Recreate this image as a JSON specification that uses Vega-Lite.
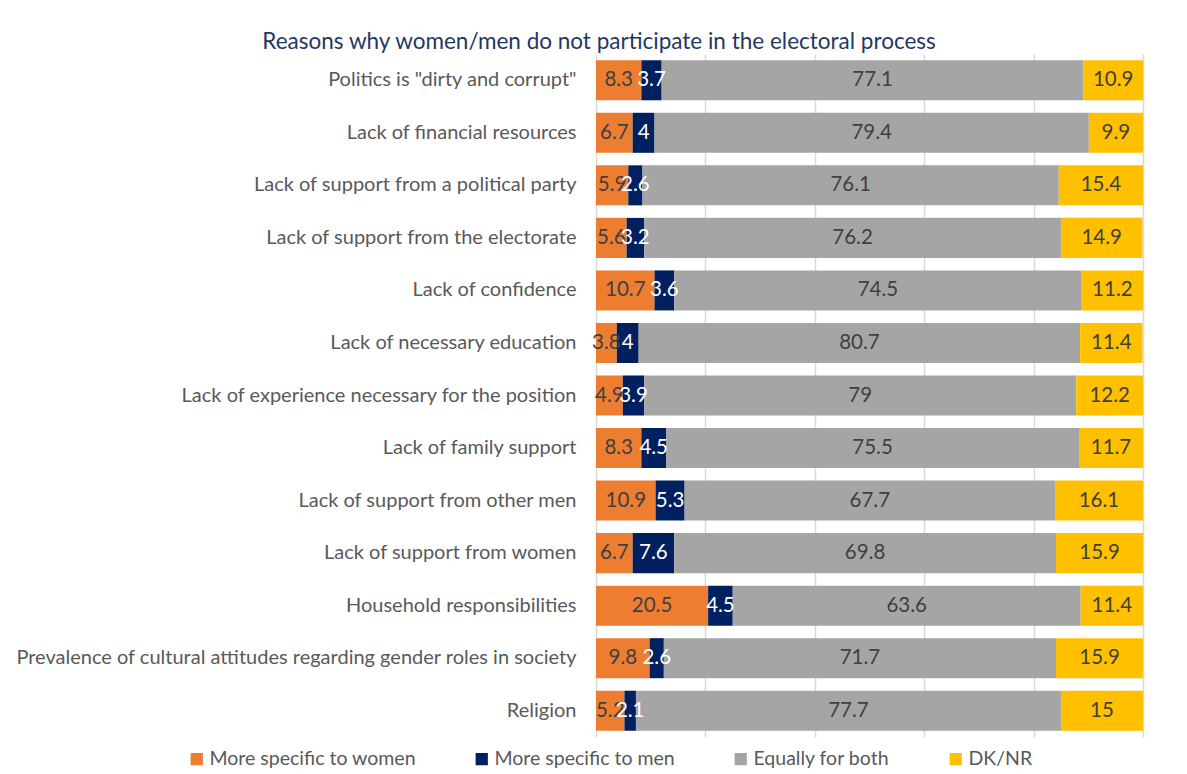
{
  "$schema": "https://vega.github.io/schema/vega-lite/v6.json",
  "width": 547,
  "height": 683,
  "autosize": {"type": "none"},
  "padding": {"left": 596, "top": 54, "right": 44, "bottom": 37},
  "background": "white",
  "title": {
    "text": "Reasons why women/men do not participate in the electoral process",
    "font": "Lato",
    "fontSize": 22.5,
    "fontWeight": "normal",
    "color": "#1F3864",
    "anchor": "middle",
    "frame": "bounds",
    "dx": 20,
    "offset": 1
  },
  "data": {
    "values": [
      {"reason": "Politics is \"dirty and corrupt\"", "women": 8.3, "men": 3.7, "both": 77.1, "dknr": 10.9},
      {"reason": "Lack of financial resources", "women": 6.7, "men": 4, "both": 79.4, "dknr": 9.9},
      {"reason": "Lack of support from a political party", "women": 5.9, "men": 2.6, "both": 76.1, "dknr": 15.4},
      {"reason": "Lack of support from the electorate", "women": 5.6, "men": 3.2, "both": 76.2, "dknr": 14.9},
      {"reason": "Lack of confidence", "women": 10.7, "men": 3.6, "both": 74.5, "dknr": 11.2},
      {"reason": "Lack of necessary education", "women": 3.8, "men": 4, "both": 80.7, "dknr": 11.4},
      {"reason": "Lack of experience necessary for the position", "women": 4.9, "men": 3.9, "both": 79, "dknr": 12.2},
      {"reason": "Lack of family support", "women": 8.3, "men": 4.5, "both": 75.5, "dknr": 11.7},
      {"reason": "Lack of support from other men", "women": 10.9, "men": 5.3, "both": 67.7, "dknr": 16.1},
      {"reason": "Lack of support from women", "women": 6.7, "men": 7.6, "both": 69.8, "dknr": 15.9},
      {"reason": "Household responsibilities", "women": 20.5, "men": 4.5, "both": 63.6, "dknr": 11.4},
      {"reason": "Prevalence of cultural attitudes regarding gender roles in society", "women": 9.8, "men": 2.6, "both": 71.7, "dknr": 15.9},
      {"reason": "Religion", "women": 5.2, "men": 2.1, "both": 77.7, "dknr": 15}
    ]
  },
  "transform": [
    {"fold": ["women", "men", "both", "dknr"], "as": ["series", "value"]},
    {"calculate": "indexof(['women','men','both','dknr'], datum.series)", "as": "idx"},
    {"stack": "value", "groupby": ["reason"], "sort": [{"field": "idx", "order": "ascending"}], "as": ["x0", "x1"]},
    {"calculate": "(datum.x0 + datum.x1) / 2", "as": "mid"}
  ],
  "encoding": {
    "y": {
      "field": "reason",
      "type": "nominal",
      "sort": null,
      "scale": {"paddingInner": 0.238, "paddingOuter": 0.119},
      "axis": {
        "title": null,
        "labelFont": "Lato",
        "labelFontSize": 20,
        "labelColor": "#595959",
        "labelPadding": 20,
        "labelLimit": 0,
        "ticks": false,
        "domain": false,
        "grid": false
      }
    }
  },
  "layer": [
    {
      "mark": {"type": "bar"},
      "encoding": {
        "x": {
          "field": "x0",
          "type": "quantitative",
          "scale": {"domain": [0, 100], "nice": false, "zero": true},
          "axis": {
            "title": null,
            "labels": false,
            "ticks": false,
            "domain": false,
            "grid": true,
            "gridColor": "#D9D9D9",
            "gridWidth": 1.5,
            "values": [0, 20, 40, 60, 80, 100]
          }
        },
        "x2": {"field": "x1"},
        "color": {
          "field": "series",
          "type": "nominal",
          "scale": {
            "domain": ["women", "men", "both", "dknr"],
            "range": ["#ED7D31", "#002060", "#A5A5A5", "#FFC000"]
          },
          "legend": {
            "title": null,
            "orient": "none",
            "direction": "horizontal",
            "legendX": -409,
            "legendY": 695,
            "symbolType": "square",
            "symbolSize": 150,
            "symbolStrokeWidth": 0,
            "labelFont": "Lato",
            "labelFontSize": 19.5,
            "labelColor": "#595959",
            "labelOffset": 3,
            "labelLimit": 0,
            "columnPadding": 56,
            "labelExpr": "datum.value == 'women' ? 'More specific to women' : datum.value == 'men' ? 'More specific to men' : datum.value == 'both' ? 'Equally for both' : 'DK/NR'"
          }
        }
      }
    },
    {
      "mark": {"type": "text", "font": "Lato", "fontSize": 20.5, "align": "center", "baseline": "middle"},
      "encoding": {
        "x": {"field": "mid", "type": "quantitative"},
        "text": {"field": "value", "type": "quantitative", "format": "~g"},
        "color": {
          "condition": {"test": "datum.series == 'men'", "value": "#FFFFFF"},
          "value": "#404040"
        }
      }
    }
  ],
  "config": {
    "view": {"stroke": null}
  }
}
